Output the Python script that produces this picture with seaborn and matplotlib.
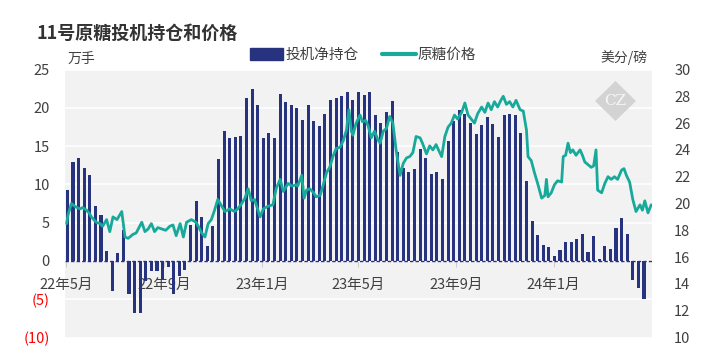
import numpy as np
import pandas as pd
import matplotlib
matplotlib.use("Agg")
import matplotlib.pyplot as plt
import matplotlib.dates as mdates
from matplotlib.patches import Patch, Polygon
from matplotlib.lines import Line2D
import seaborn as sns

# weekly speculative net position (10k lots), COT Tuesdays from 2022-05-03
net_position = [
    9.3, 12.9, 13.5, 12.2, 11.2, 7.2, 6.0, 1.3, -3.9, 1.0, 4.0, -4.3, -6.8, -6.8,
    -2.6, -1.3, -1.3, -2.4, -0.8, -4.3, -2.0, -1.2,
    4.7, 7.8, 5.7, 1.9, 4.5, 13.3, 17.0, 16.0, 16.2, 16.3, 21.3, 22.5, 20.4, 16.1,
    16.7, 16.1, 21.8, 20.7, 20.4, 20.0, 18.4,
    20.3, 18.3, 17.6, 19.2, 21.0, 21.3, 21.6, 22.0, 21.0, 22.0, 21.7, 22.0, 19.1,
    18.0, 19.5, 20.9, 14.2, 12.2, 11.6, 12.0, 14.6,
    13.5, 11.4, 11.6, 10.7, 15.6, 18.3, 19.7, 19.2, 18.0, 16.6, 17.8, 18.8, 17.9,
    16.2, 19.1, 19.2, 19.0, 16.7, 10.5, 5.2, 3.4, 2.1,
    1.8, 0.7, 1.4, 2.5, 2.5, 2.9, 3.5, 1.2, 3.3, 0.2, 2.0, 1.6, 4.3, 5.6, 3.5,
    -2.5, -3.5, -5.0,
]
position_dates = pd.date_range("2022-05-03", periods=len(net_position), freq="7D")

# ICE No.11 raw sugar price (US cents/lb)
price_dates = [
    "2022-05-02", "2022-05-04", "2022-05-08", "2022-05-12", "2022-05-15", "2022-05-19",
    "2022-05-22", "2022-05-27", "2022-05-30", "2022-06-02", "2022-06-05", "2022-06-08",
    "2022-06-13", "2022-06-16", "2022-06-21", "2022-06-25", "2022-06-29", "2022-07-04",
    "2022-07-10", "2022-07-14", "2022-07-18", "2022-07-24", "2022-07-28", "2022-08-04",
    "2022-08-08", "2022-08-12", "2022-08-16", "2022-08-20", "2022-08-24", "2022-08-29",
    "2022-09-03", "2022-09-08", "2022-09-12", "2022-09-16", "2022-09-21", "2022-09-25",
    "2022-09-29", "2022-10-05", "2022-10-11", "2022-10-18", "2022-10-22", "2022-10-26",
    "2022-10-30", "2022-11-03", "2022-11-07", "2022-11-12", "2022-11-16", "2022-11-22",
    "2022-11-28", "2022-12-02", "2022-12-07", "2022-12-11", "2022-12-15", "2022-12-19",
    "2022-12-23", "2022-12-30", "2023-01-03", "2023-01-09", "2023-01-15", "2023-01-19",
    "2023-01-24", "2023-01-28", "2023-01-31", "2023-02-03", "2023-02-08", "2023-02-13",
    "2023-02-15", "2023-02-20", "2023-02-23", "2023-02-26", "2023-03-02", "2023-03-07",
    "2023-03-10", "2023-03-15", "2023-03-18", "2023-03-23", "2023-03-27", "2023-03-31",
    "2023-04-04", "2023-04-09", "2023-04-13", "2023-04-17", "2023-04-20", "2023-04-23",
    "2023-04-25", "2023-04-29", "2023-05-04", "2023-05-07", "2023-05-11", "2023-05-14",
    "2023-05-18", "2023-05-22", "2023-05-26", "2023-05-29", "2023-06-02", "2023-06-06",
    "2023-06-10", "2023-06-14", "2023-06-18", "2023-06-23", "2023-06-27", "2023-07-01",
    "2023-07-05", "2023-07-09", "2023-07-13", "2023-07-18", "2023-07-21", "2023-07-26",
    "2023-07-30", "2023-08-03", "2023-08-07", "2023-08-10", "2023-08-14", "2023-08-18",
    "2023-08-22", "2023-08-26", "2023-08-30", "2023-09-03", "2023-09-08", "2023-09-12",
    "2023-09-16", "2023-09-20", "2023-09-24", "2023-09-28", "2023-10-03", "2023-10-07",
    "2023-10-11", "2023-10-15", "2023-10-19", "2023-10-23", "2023-10-27", "2023-10-30",
    "2023-11-03", "2023-11-07", "2023-11-11", "2023-11-15", "2023-11-20", "2023-11-24",
    "2023-11-28", "2023-11-30", "2023-12-04", "2023-12-08", "2023-12-12", "2023-12-17",
    "2023-12-21", "2023-12-23", "2023-12-25", "2023-12-29", "2024-01-02", "2024-01-06",
    "2024-01-11", "2024-01-13", "2024-01-16", "2024-01-19", "2024-01-22", "2024-01-25",
    "2024-01-29", "2024-02-03", "2024-02-06", "2024-02-09", "2024-02-13", "2024-02-17",
    "2024-02-20", "2024-02-23", "2024-02-25", "2024-03-01", "2024-03-05", "2024-03-09",
    "2024-03-13", "2024-03-17", "2024-03-21", "2024-03-26", "2024-03-29", "2024-04-01",
    "2024-04-05", "2024-04-09", "2024-04-13", "2024-04-18", "2024-04-21", "2024-04-24",
    "2024-04-28", "2024-05-02",
]
price = [
    18.5, 19.2, 20.0, 19.8, 19.7, 19.6,
    19.7, 19.5, 19.3, 19.0, 18.8, 18.6,
    18.5, 18.3, 18.8, 17.9, 19.0, 18.8,
    19.4, 17.5, 17.4, 17.7, 17.8, 18.6,
    17.9, 18.1, 18.5, 17.9, 18.2, 18.1,
    18.0, 18.3, 18.4, 17.6, 18.5, 17.5,
    18.6, 18.8, 18.6, 17.8, 17.5, 18.5,
    18.8, 19.5, 20.3, 19.8, 19.4, 19.6,
    19.4, 19.6, 20.0, 20.4, 21.1, 20.2,
    20.3, 19.0, 19.6, 19.8, 19.9, 21.1,
    21.8, 20.9, 21.2, 21.5, 21.3, 21.4,
    21.3, 22.1, 20.4, 21.0, 21.1, 20.8,
    20.5, 20.6, 21.2, 22.3, 22.7, 23.5,
    24.1, 24.2, 24.7, 25.5, 27.0, 25.4,
    25.1, 26.0, 26.6, 26.1, 26.2, 25.8,
    24.9, 25.4, 24.8, 24.5, 25.4, 25.6,
    26.5, 26.0, 24.0, 22.1, 23.0, 23.4,
    23.5, 23.8, 25.0, 24.9, 24.5, 23.7,
    24.3, 24.0, 24.4, 24.0, 23.5, 25.0,
    25.7, 26.0, 26.6, 26.3, 26.8, 27.5,
    26.6, 26.3, 26.0, 26.7, 27.2, 26.8,
    27.5, 27.0, 27.6, 27.2, 27.7, 28.0,
    27.4, 27.6, 27.2, 27.7, 27.0, 26.9,
    25.5, 23.5, 23.2, 22.3, 21.5, 20.4,
    20.6, 21.8, 20.5, 20.8, 21.4, 21.7,
    21.6, 23.5, 23.6, 24.5, 23.8, 24.0,
    23.6, 24.0, 23.6, 23.1, 22.9, 22.7,
    22.8, 24.0, 21.0, 20.8, 21.5, 22.0,
    21.8, 22.0, 21.8, 22.5, 22.6, 22.1,
    21.6, 20.3, 19.4, 19.9, 19.5, 20.2,
    19.3, 19.9,
]

tick_dates = ["2022-05-01", "2022-09-01", "2023-01-01", "2023-05-01", "2023-09-01", "2024-01-01"]
tick_labels = ["22年5月", "22年9月", "23年1月", "23年5月", "23年9月", "24年1月"]
left_ticks = [-10, -5, 0, 5, 10, 15, 20, 25]
left_labels = ["(10)", "(5)", "0", "5", "10", "15", "20", "25"]
right_ticks = list(range(10, 31, 2))

NAVY = "#28337f"
TEAL = "#17aa9b"
GREY = "#404040"

sns.set_style("white")
plt.rcParams["font.family"] = ["Noto Sans CJK SC", "DejaVu Sans"]
plt.rcParams["axes.unicode_minus"] = False

fig = plt.figure(figsize=(7.07, 3.59), dpi=100)
ax = fig.add_axes([65 / 707, 1 - 337.5 / 359, 587 / 707, 268 / 359])
ax.set_facecolor("#f2f2f2")
axb = ax.twinx()
axp = ax.twinx()

bar_x = mdates.date2num(position_dates)
sns.barplot(x=bar_x, y=net_position, native_scale=True, ax=axb, color=NAVY,
            saturation=1, width=0.55, errorbar=None, linewidth=0)
axb.axhline(0, color=NAVY, lw=1, ls=(0, (2.5, 1.5)))

line_x = mdates.date2num(pd.to_datetime(price_dates))
sns.lineplot(x=line_x, y=price, ax=axp, color=TEAL, lw=2.0, sort=False)

xmin = mdates.date2num(pd.Timestamp("2022-04-30"))
xmax = mdates.date2num(pd.Timestamp("2024-05-03"))
for a in (ax, axb, axp):
    a.set_xlabel("")
    a.set_ylabel("")
    for s in a.spines.values():
        s.set_visible(False)

ax.set_ylim(-10, 25)
axb.set_ylim(-10, 25)
axp.set_ylim(10, 30)

ax.set_yticks(left_ticks)
ax.set_yticklabels(left_labels)
for lab, v in zip(ax.get_yticklabels(), left_ticks):
    lab.set_color("#ff0000" if v < 0 else GREY)
ax.tick_params(axis="y", length=0, pad=11, labelsize=10.5)
ax.grid(axis="y", color="white", lw=1.2)
ax.grid(axis="x", visible=False)

axb.set_yticks([])
axp.set_yticks(right_ticks)
axp.tick_params(axis="y", length=0, pad=16, labelsize=10.5, labelcolor=GREY)

# shared x axis: set ticks last so seaborn does not override them
ax.set_xlim(xmin, xmax)
ax.spines["bottom"].set_position(("data", 0))
ax.set_xticks(mdates.date2num(pd.to_datetime(tick_dates)))
ax.set_xticklabels(tick_labels)
ax.tick_params(axis="x", bottom=True, labelbottom=True, length=4, color="#cfcfcf",
               pad=8, labelsize=10.5, labelcolor=GREY)

fig.text(36 / 707, 1 - 33 / 359, "11号原糖投机持仓和价格", fontsize=13, fontweight="bold",
         color="#333333", va="center", ha="left")
fig.text(68 / 707, 1 - 59 / 359, "万手", fontsize=10, color=GREY, va="center", ha="left")
fig.text(648 / 707, 1 - 58 / 359, "美分/磅", fontsize=10, color=GREY, va="center", ha="right")

handles = [Patch(color=NAVY), Line2D([], [], color=TEAL, lw=3)]
fig.legend(handles, ["投机净持仓", "原糖价格"], loc="center", ncol=2,
           bbox_to_anchor=(363 / 707, 1 - 55 / 359), frameon=False, fontsize=10.5,
           handlelength=2.3, handleheight=0.9, handletextpad=0.15, columnspacing=1.6,
           labelcolor=GREY)

# watermark logo
logo = fig.add_axes([595 / 707, 1 - 121 / 359, 41 / 707, 40 / 359])
logo.set_xlim(0, 1)
logo.set_ylim(0, 1)
logo.axis("off")
logo.add_patch(Polygon([(0.5, 0), (1, 0.5), (0.5, 1), (0, 0.5)], closed=True,
                       fc="#d3d3d3", ec="none"))
logo.text(0.5, 0.5, "CZ", ha="center", va="center", fontsize=11, color="#f7f7f7",
          family="DejaVu Serif")

fig.savefig("out.png", dpi=100)
